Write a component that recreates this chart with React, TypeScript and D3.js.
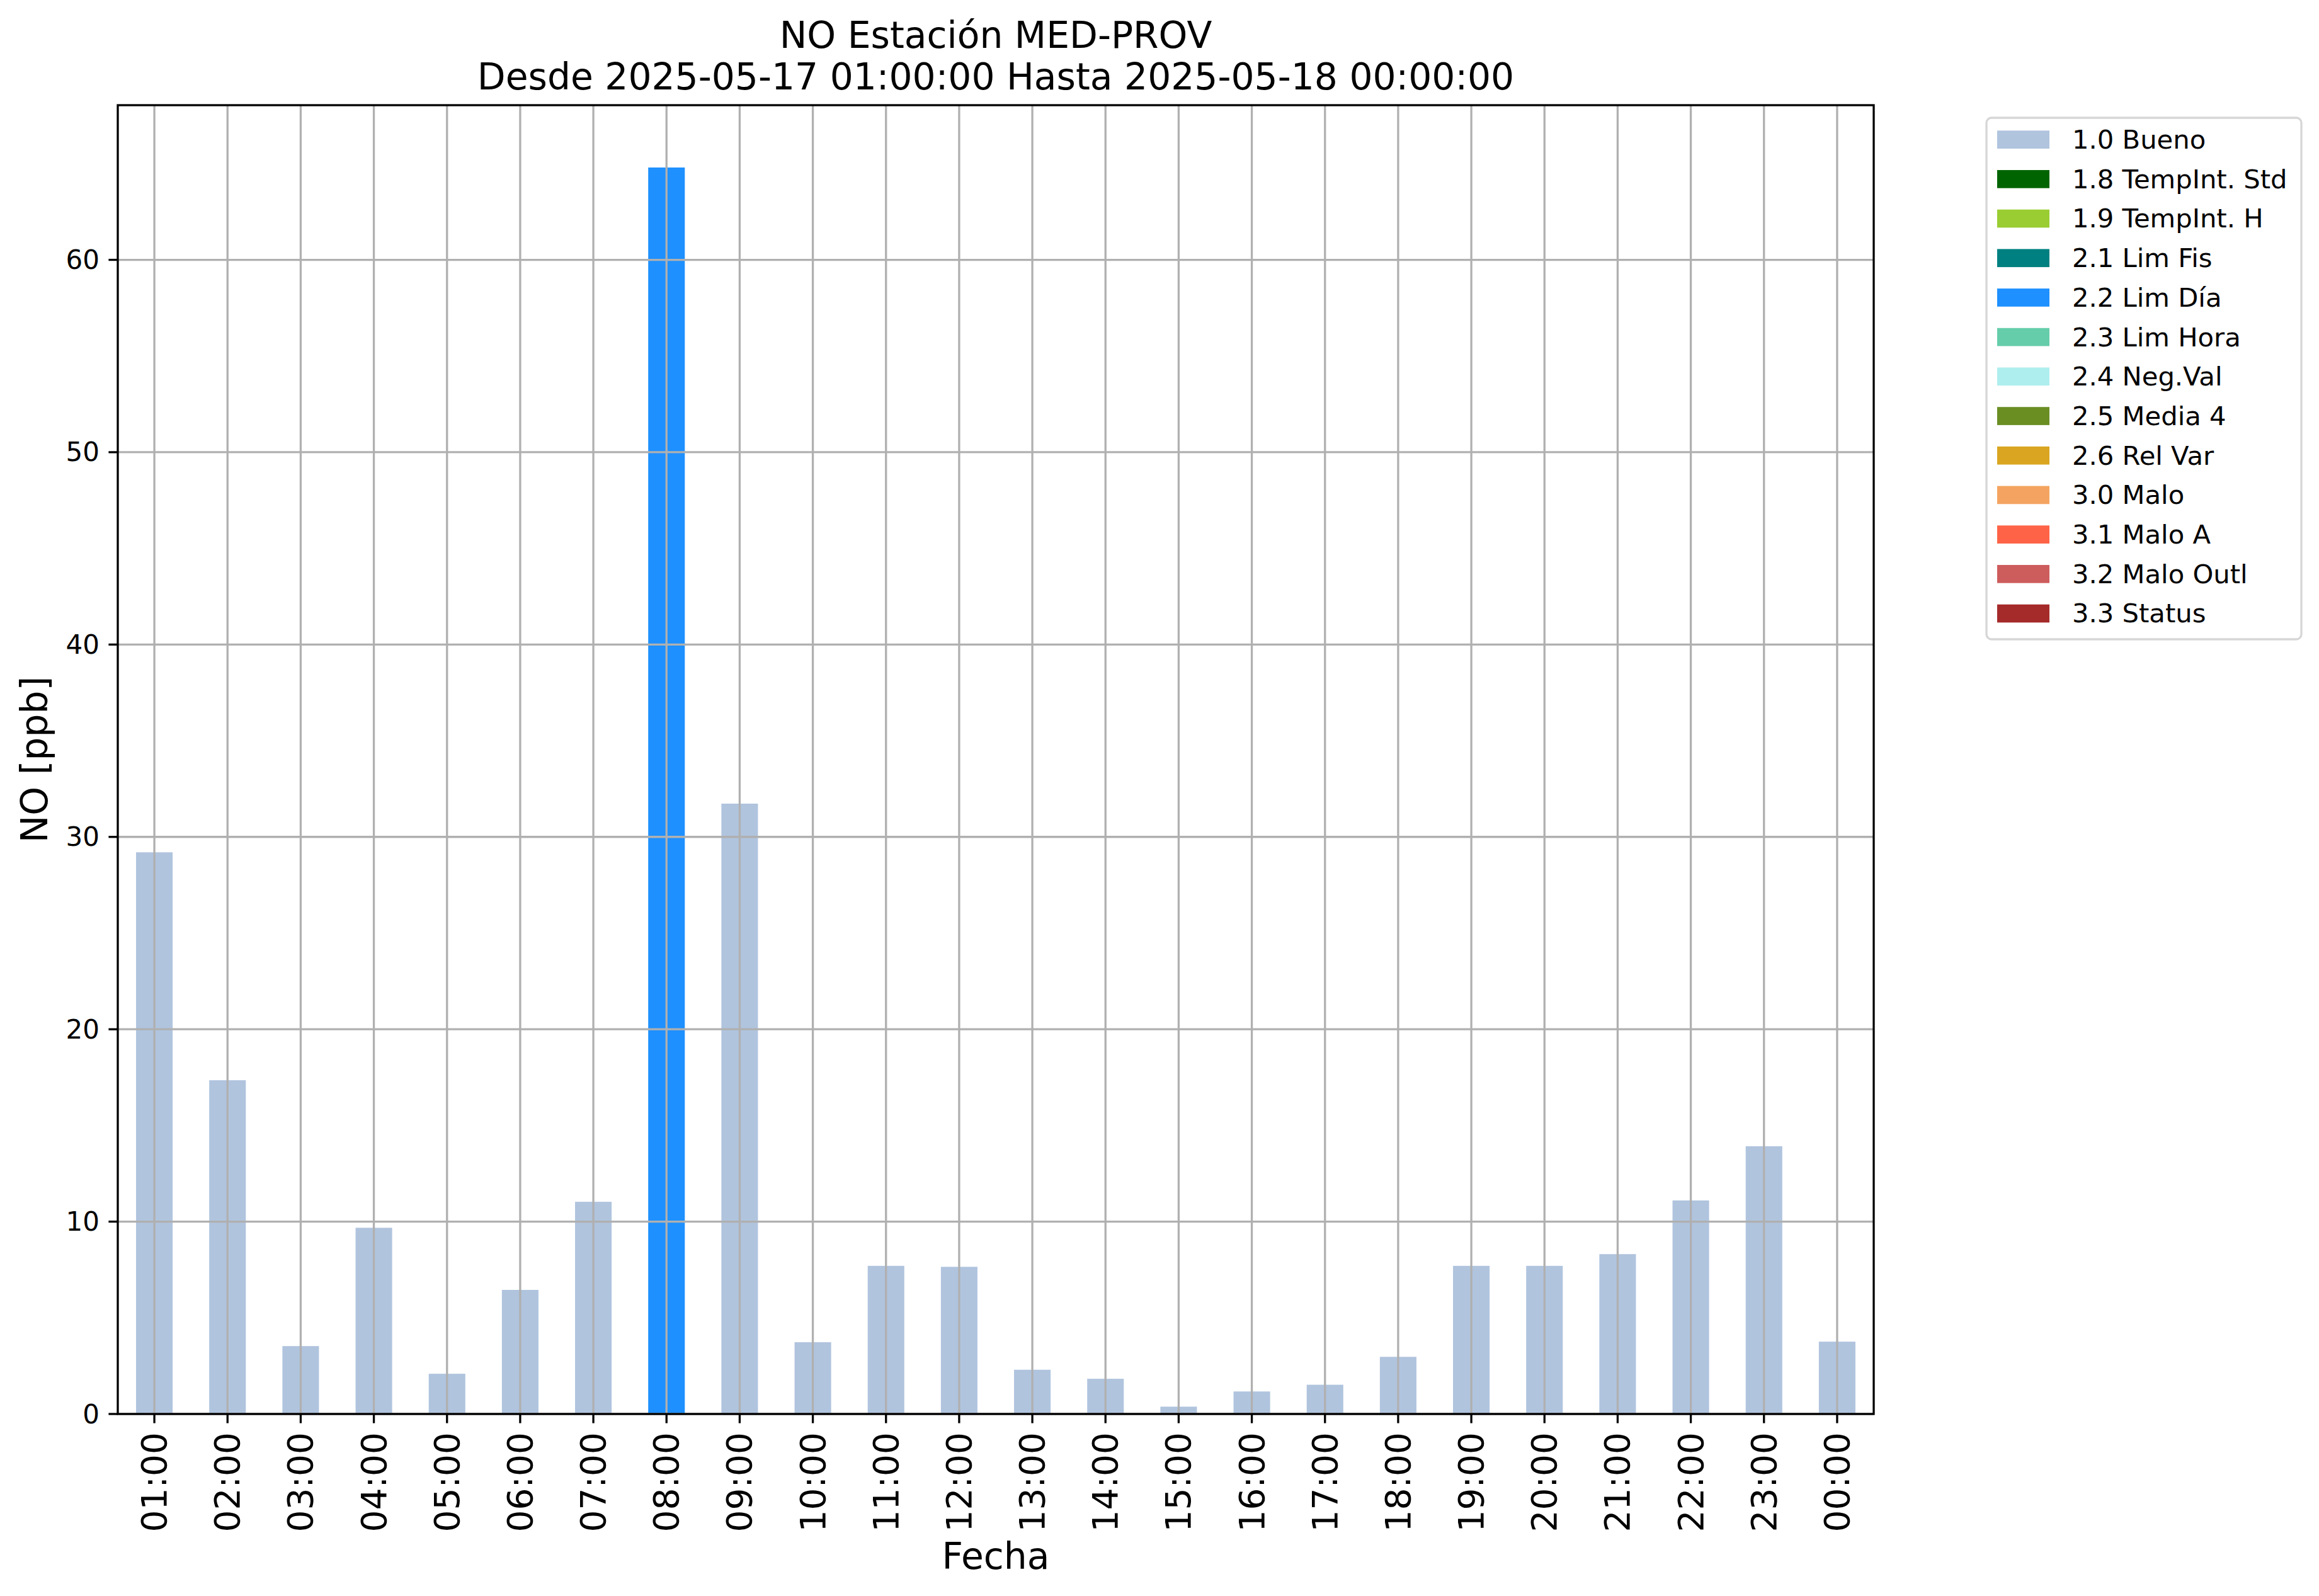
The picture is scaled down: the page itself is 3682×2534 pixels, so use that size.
import React from "react";
import * as d3 from "d3";

const hours = ["01:00","02:00","03:00","04:00","05:00","06:00","07:00","08:00","09:00","10:00","11:00","12:00","13:00","14:00","15:00","16:00","17:00","18:00","19:00","20:00","21:00","22:00","23:00","00:00"];
const values = [29.2,17.35,3.53,9.68,2.09,6.45,11.03,64.8,31.73,3.73,7.7,7.65,2.3,1.83,0.38,1.17,1.52,2.97,7.7,7.7,8.31,11.1,13.92,3.76];
const flags = ["1.0","1.0","1.0","1.0","1.0","1.0","1.0","2.2","1.0","1.0","1.0","1.0","1.0","1.0","1.0","1.0","1.0","1.0","1.0","1.0","1.0","1.0","1.0","1.0"];
const legendCodes = ["1.0","1.8","1.9","2.1","2.2","2.3","2.4","2.5","2.6","3.0","3.1","3.2","3.3"];
const legendLabels = ["1.0 Bueno","1.8 TempInt. Std","1.9 TempInt. H","2.1 Lim Fis","2.2 Lim Día","2.3 Lim Hora","2.4 Neg.Val","2.5 Media 4","2.6 Rel Var","3.0 Malo","3.1 Malo A","3.2 Malo Outl","3.3 Status"];
const legendColors = ["#b0c4de","#006400","#9acd32","#008080","#1e90ff","#66cdaa","#afeeee","#6b8e23","#daa520","#f4a460","#ff6347","#cd5c5c","#a52a2a"];
const yTicks = [0,10,20,30,40,50,60];
const titleLines = ["NO Estación MED-PROV","Desde 2025-05-17 01:00:00 Hasta 2025-05-18 00:00:00"];

const W = 3682, H = 2534;
const L = 187, R = 2975, T = 167, B = 2245;
const FONT = "DejaVu Sans";

export default function App() {
  const x = d3.scaleBand<string>().domain(hours).range([L, R]).paddingInner(0.5).paddingOuter(0.25);
  const yMax = (d3.max(values) as number) * 1.05;
  const y = d3.scaleLinear().domain([0, yMax]).range([B, T]);
  const color = d3.scaleOrdinal<string, string>().domain(legendCodes).range(legendColors);
  const grid = "#b0b0b0";
  const lw = 3.3;
  const cx = (h: string) => (x(h) as number) + x.bandwidth() / 2;

  const legX = 3154, legY = 187, legW = 500, legH = 828;
  const rowH = 62.7;

  return (
    <svg width={W} height={H} style={{ position: "absolute", left: 0, top: 0, background: "#fff" }} fontFamily={FONT}>
      <rect x={0} y={0} width={W} height={H} fill="#fff" />
      {hours.map((h, i) => (
        <rect key={h} x={x(h)} y={y(values[i])} width={x.bandwidth()} height={B - y(values[i])} fill={color(flags[i])} />
      ))}
      {hours.map((h) => (
        <line key={"gx" + h} x1={cx(h)} x2={cx(h)} y1={T} y2={B} stroke={grid} strokeWidth={lw} />
      ))}
      {yTicks.map((t) => (
        <line key={"gy" + t} x1={L} x2={R} y1={y(t)} y2={y(t)} stroke={grid} strokeWidth={lw} />
      ))}
      <rect x={L} y={T} width={R - L} height={B - T} fill="none" stroke="#000" strokeWidth={lw} />
      {yTicks.map((t) => (
        <g key={"yt" + t}>
          <line x1={L - 14.6} x2={L} y1={y(t)} y2={y(t)} stroke="#000" strokeWidth={lw} />
          <text x={L - 29} y={y(t)} textAnchor="end" dominantBaseline="central" fontSize={42}>{t}</text>
        </g>
      ))}
      {hours.map((h) => (
        <g key={"xt" + h}>
          <line x1={cx(h)} x2={cx(h)} y1={B} y2={B + 14.6} stroke="#000" strokeWidth={lw} />
          <text transform={`translate(${cx(h)},${B + 29}) rotate(-90)`} textAnchor="end" dominantBaseline="central" fontSize={55}>{h}</text>
        </g>
      ))}
      <text x={(L + R) / 2} y={2491} textAnchor="middle" fontSize={58.3}>Fecha</text>
      <text transform={`translate(75,${(T + B) / 2}) rotate(-90)`} textAnchor="middle" fontSize={58.3}>NO [ppb]</text>
      <text x={(L + R) / 2} y={76} textAnchor="middle" fontSize={58.3}>{titleLines[0]}</text>
      <text x={(L + R) / 2} y={142} textAnchor="middle" fontSize={58.3}>{titleLines[1]}</text>
      <rect x={legX} y={legY} width={legW} height={legH} rx={8} ry={8} fill="#fff" fillOpacity={0.8} stroke="#d6d6d6" strokeWidth={lw} />
      {legendLabels.map((lab, i) => {
        const ry = 207.3 + i * rowH;
        return (
          <g key={lab}>
            <rect x={3171} y={ry} width={83} height={28.7} fill={legendColors[i]} />
            <text x={3290} y={ry + 28.7} fontSize={41.7}>{lab}</text>
          </g>
        );
      })}
    </svg>
  );
}
